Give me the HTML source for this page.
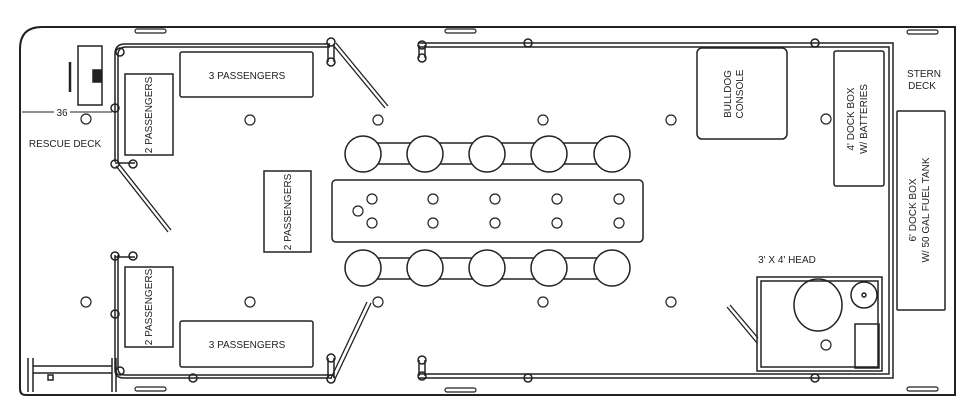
<!DOCTYPE html>
<html><head><meta charset="utf-8"><style>
html,body{margin:0;padding:0;background:#fff;width:974px;height:407px;overflow:hidden}
svg{display:block}
text{font-family:"Liberation Sans",sans-serif;font-size:10px;fill:#222}
</style></head><body>
<svg width="974" height="407" viewBox="0 0 974 407" fill="none" stroke="#222" stroke-width="1.5">
<!-- hull -->
<path d="M42,27 H955 V395 H26 Q20,395 20,389 V49 Q20,27 42,27 Z" stroke-width="2"/>
<!-- fenders -->
<g stroke-width="1.2">
<rect x="135" y="29" width="31" height="4" rx="2"/><rect x="445" y="29" width="31" height="4" rx="2"/><rect x="907" y="30" width="31" height="4" rx="2"/>
<rect x="135" y="387" width="31" height="4" rx="2"/><rect x="445" y="388" width="31" height="4" rx="2"/><rect x="907" y="387" width="31" height="4" rx="2"/>
</g>
<!-- left rails -->
<path d="M330,44 H125 Q115,44 115,54 V162"/>
<path d="M330,47 H126 Q118,47 118,55 V162"/>
<path d="M115,255 V370 Q115,378 124,378 H332"/>
<path d="M118,255 V368 Q118,375 125,375 H332"/>
<line x1="115" y1="163" x2="135" y2="163"/><line x1="115" y1="257" x2="135" y2="257"/>
<circle cx="115" cy="164" r="4"/><circle cx="133" cy="164" r="4"/>
<circle cx="115" cy="256" r="4"/><circle cx="133" cy="256" r="4"/>
<circle cx="115" cy="108" r="4"/><circle cx="115" cy="314" r="4"/>
<circle cx="120" cy="52" r="4"/><circle cx="120" cy="371" r="4"/>
<circle cx="193" cy="378" r="4"/>
<circle cx="331" cy="42" r="4"/><circle cx="331" cy="62" r="4"/><line x1="328" y1="44" x2="328" y2="62"/><line x1="334" y1="44" x2="334" y2="62"/>
<circle cx="331" cy="379" r="4"/><circle cx="331" cy="358" r="4"/><line x1="328" y1="358" x2="328" y2="378"/><line x1="334" y1="358" x2="334" y2="378"/>
<!-- diagonal rails -->
<path d="M333,45 L385,108 M336,43 L388,106" stroke-width="1.3"/>
<path d="M116,166 L168,232 M119,164 L171,230" stroke-width="1.3"/>
<path d="M367,302 L331,378 M371,303 L335,379" stroke-width="1.3"/>
<!-- right rail -->
<path d="M418,43 H893 V378 H418"/>
<path d="M418,47 H889 V374 H418"/>
<circle cx="422" cy="45" r="4"/><circle cx="422" cy="58" r="4"/><line x1="419" y1="45" x2="419" y2="58"/><line x1="425" y1="45" x2="425" y2="58"/>
<circle cx="422" cy="376" r="4"/><circle cx="422" cy="360" r="4"/><line x1="419" y1="360" x2="419" y2="376"/><line x1="425" y1="360" x2="425" y2="376"/>
<circle cx="528" cy="43" r="4"/><circle cx="815" cy="43" r="4"/><circle cx="528" cy="378" r="4"/><circle cx="815" cy="378" r="4"/>
<!-- seat boxes -->
<rect x="180" y="52" width="133" height="45" rx="2"/>
<rect x="125" y="74" width="48" height="81"/>
<rect x="264" y="171" width="47" height="81"/>
<rect x="125" y="267" width="48" height="80"/>
<rect x="180" y="321" width="133" height="46" rx="2"/>
<!-- seats -->
<g>
<rect x="363" y="143" width="249" height="21"/>
<rect x="363" y="258" width="249" height="21"/>
</g>
<g fill="#fff">
<circle cx="363" cy="154" r="18"/><circle cx="425" cy="154" r="18"/><circle cx="487" cy="154" r="18"/><circle cx="549" cy="154" r="18"/><circle cx="612" cy="154" r="18"/>
<circle cx="363" cy="268" r="18"/><circle cx="425" cy="268" r="18"/><circle cx="487" cy="268" r="18"/><circle cx="549" cy="268" r="18"/><circle cx="612" cy="268" r="18"/>
</g>
<rect x="332" y="180" width="311" height="62" rx="4"/>
<g stroke-width="1.2">
<circle cx="372" cy="199" r="5"/><circle cx="433" cy="199" r="5"/><circle cx="495" cy="199" r="5"/><circle cx="557" cy="199" r="5"/><circle cx="619" cy="199" r="5"/>
<circle cx="372" cy="223" r="5"/><circle cx="433" cy="223" r="5"/><circle cx="495" cy="223" r="5"/><circle cx="557" cy="223" r="5"/><circle cx="619" cy="223" r="5"/>
<circle cx="358" cy="211" r="5"/>
<!-- deck circles -->
<circle cx="86" cy="119" r="5"/><circle cx="250" cy="120" r="5"/><circle cx="378" cy="120" r="5"/><circle cx="543" cy="120" r="5"/><circle cx="671" cy="120" r="5"/><circle cx="826" cy="119" r="5"/>
<circle cx="86" cy="302" r="5"/><circle cx="250" cy="302" r="5"/><circle cx="378" cy="302" r="5"/><circle cx="543" cy="302" r="5"/><circle cx="671" cy="302" r="5"/><circle cx="826" cy="345" r="5"/>
</g>
<!-- console etc -->
<rect x="697" y="48" width="90" height="91" rx="5"/>
<rect x="834" y="51" width="50" height="135" rx="2"/>
<rect x="897" y="111" width="48" height="199" rx="1"/>
<!-- head -->
<rect x="757" y="277" width="125" height="94"/>
<rect x="761" y="281" width="117" height="86"/>
<ellipse cx="818" cy="305" rx="24" ry="26"/>
<circle cx="864" cy="295" r="13"/><circle cx="864" cy="295" r="2"/>
<rect x="855" y="324" width="24" height="44"/>
<path d="M727,307 L757,343 M730,305 L758,338" stroke-width="1.3"/>
<!-- rescue deck items -->
<rect x="78" y="46" width="24" height="59"/>
<line x1="70" y1="62" x2="70" y2="92" stroke-width="2.5"/>
<rect x="93" y="70" width="8" height="12" fill="#222"/>
<path d="M22,112 H112" stroke-width="1"/>
<path d="M28,358 V392 M33,358 V392 M112,358 V392 M116,358 V392 M33,366 H112 M33,373 H112" stroke-width="1.5"/>
<rect x="48" y="375" width="5" height="5"/>
</g>
</svg>
<svg width="974" height="407" style="position:absolute;left:0;top:0">
<g font-family="Liberation Sans, sans-serif" font-size="10" fill="#222" text-anchor="middle">
<rect x="54" y="106" width="16" height="12" fill="#fff"/>
<text x="62" y="116">36</text>
<text x="65" y="147">RESCUE DECK</text>
<text x="247" y="79">3 PASSENGERS</text>
<text x="247" y="348">3 PASSENGERS</text>
<text transform="translate(152,115) rotate(-90)">2 PASSENGERS</text>
<text transform="translate(291,212) rotate(-90)">2 PASSENGERS</text>
<text transform="translate(152,307) rotate(-90)">2 PASSENGERS</text>
<text transform="translate(731,94) rotate(-90)">BULLDOG</text>
<text transform="translate(743,94) rotate(-90)">CONSOLE</text>
<text transform="translate(854,119) rotate(-90)">4' DOCK BOX</text>
<text transform="translate(867,119) rotate(-90)">W/ BATTERIES</text>
<text transform="translate(916,210) rotate(-90)">6' DOCK BOX</text>
<text transform="translate(929,210) rotate(-90)">W/ 50 GAL FUEL TANK</text>
<text x="924" y="77">STERN</text>
<text x="922" y="89">DECK</text>
<text x="787" y="263">3' X 4' HEAD</text>
</g>
</svg>
</body></html>
